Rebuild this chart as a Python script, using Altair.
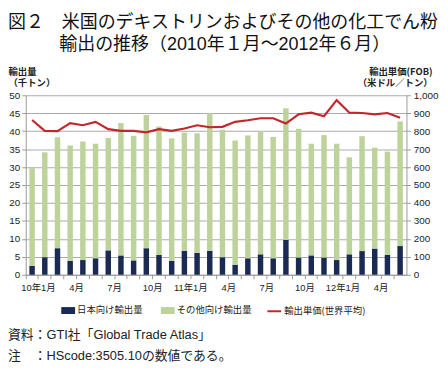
import json
import altair as alt
import pandas as pd

# ---- data ----
months = [f"{y}-{m:02d}" for y in (2010, 2011, 2012) for m in range(1, 13)][:30]
tick_labels = ["10年1月", "", "", "4月", "", "", "7月", "", "", "10月", "", "",
               "11年1月", "", "", "4月", "", "", "7月", "", "", "10月", "", "",
               "12年1月", "", "", "4月", "", ""]
japan = [2.5, 4.9, 7.4, 3.9, 4.1, 4.6, 6.8, 5.4, 4.0, 7.4, 5.5, 3.9, 6.7, 6.1, 6.7,
         4.9, 2.8, 4.6, 5.7, 4.6, 9.7, 4.8, 5.4, 4.8, 4.1, 5.7, 6.6, 7.3, 5.5, 8.0]
other = [27.2, 29.2, 30.9, 32.1, 33.0, 31.9, 31.3, 36.9, 34.7, 37.1, 35.8, 34.1, 32.9, 33.3, 38.3,
         35.5, 34.6, 34.2, 34.3, 33.8, 36.7, 35.9, 31.1, 34.1, 32.4, 27.0, 32.0, 28.1, 28.8, 34.7]
price = [862, 802, 800, 845, 833, 852, 811, 802, 802, 793, 811, 802, 815, 833, 822,
         824, 852, 861, 872, 872, 842, 894, 903, 883, 973, 903, 901, 894, 901, 875]

s_japan = "日本向け輸出量"
s_other = "その他向け輸出量"
s_price = "輸出単価(世界平均)"

title1 = "図２　米国のデキストリンおよびその他の化工でん粉"
title2 = "輸出の推移（2010年１月～2012年６月）"
note1 = "資料：GTI社「Global Trade Atlas」"
note2 = "注　：HScode:3505.10の数値である。"

NAVY = "#1b2a52"
GREEN = "#bed39c"
RED = "#c1272d"
FONT = "Liberation Sans, Noto Sans CJK JP, sans-serif"
JFONT = "Noto Sans CJK JP, sans-serif"

bars_df = pd.DataFrame(
    [{"month": m, "series": s_japan, "value": v, "ord": 0} for m, v in zip(months, japan)]
    + [{"month": m, "series": s_other, "value": v, "ord": 1} for m, v in zip(months, other)]
)
line_df = pd.DataFrame({"month": months, "price": price, "name": s_price})

label_expr = f"{json.dumps(tick_labels, ensure_ascii=False)}[indexof({json.dumps(months)}, datum.value)]"

xenc = alt.X(
    "month:O",
    sort=months,
    scale=alt.Scale(paddingInner=0, paddingOuter=0),
    axis=alt.Axis(
        title=None, labelAngle=0, bandPosition=0, labelOffset=6.43,
        labelExpr=label_expr, tickSize=4, tickColor="#999", domainColor="#999",
        labelFontSize=9.5, labelPadding=4, labelColor="#222", grid=False,
    ),
)

bars = alt.Chart(bars_df).mark_bar(width=alt.RelativeBandSize(0.43)).encode(
    x=xenc,
    y=alt.Y(
        "value:Q", stack="zero",
        scale=alt.Scale(domain=[0, 50], nice=False),
        axis=alt.Axis(
            values=list(range(0, 55, 5)), title=["輸出量", "（千トン）"],
            titleAngle=0, titleAlign="left", titleBaseline="top",
            titleX=-18, titleY=-29, titleFontSize=9.5, titleFontWeight="bold",
            titleLineHeight=11, titleFont=JFONT, titleColor="#222",
            grid=True, gridColor="#aaaaaa", tickSize=4, tickColor="#999",
            domainColor="#999", labelFontSize=10, labelPadding=2, labelColor="#222",
        ),
    ),
    color=alt.Color(
        "series:N",
        scale=alt.Scale(domain=[s_japan, s_other], range=[NAVY, GREEN]),
        legend=alt.Legend(
            orient="none", legendX=36, legendY=211, direction="horizontal", title=None,
            symbolType="M-1,-0.5H1V0.5H-1Z", symbolSize=196, symbolStrokeWidth=0,
            labelFontSize=9.5, labelFont=JFONT, labelColor="#222", labelOffset=2,
            columnPadding=18, padding=0,
        ),
    ),
    order=alt.Order("ord:Q"),
)

line = alt.Chart(line_df).mark_line(strokeWidth=2.2).encode(
    x=alt.X("month:O", sort=months),
    y=alt.Y(
        "price:Q",
        scale=alt.Scale(domain=[0, 1000], nice=False),
        axis=alt.Axis(
            orient="right", values=list(range(0, 1100, 100)), format=",.0f",
            title=["輸出単価(FOB)", "（米ドル／トン）"],
            titleAngle=0, titleAlign="right", titleBaseline="top",
            titleX=26, titleY=-29, titleFontSize=9.5, titleFontWeight="bold",
            titleLineHeight=11, titleFont=JFONT, titleColor="#222",
            grid=False, tickSize=4, tickColor="#999", domainColor="#999",
            labelFontSize=10, labelPadding=3, labelColor="#222",
        ),
    ),
    stroke=alt.Stroke(
        "name:N",
        scale=alt.Scale(domain=[s_price], range=[RED]),
        legend=alt.Legend(
            orient="none", legendX=244, legendY=211, direction="horizontal", title=None,
            symbolType="stroke", symbolSize=196, symbolStrokeWidth=2,
            labelFontSize=9.5, labelFont=JFONT, labelColor="#222", labelOffset=2, padding=0,
        ),
    ),
)


def text_layer(txt, x, y, size, color="#111"):
    return alt.Chart(pd.DataFrame({"t": [txt]})).mark_text(
        align="left", baseline="middle", fontSize=size, font=FONT, color=color
    ).encode(text="t:N", x=alt.value(x), y=alt.value(y))


texts = [
    text_layer(title1, -18, -73, 18.2),
    text_layer(title2, 34, -51, 18.2),
    text_layer(note1, -18, 243, 13, "#222"),
    text_layer(note2, -18, 264, 13, "#222"),
]

chart = alt.layer(bars, line, *texts).resolve_scale(
    y="independent"
).properties(
    width=386, height=182,
    autosize=alt.AutoSizeParams(type="none"),
    padding={"left": 18, "top": 86, "right": 34, "bottom": 88},
    background="white",
).configure_view(stroke=None).configure_axis(labelFont=FONT, titleFont=JFONT)

chart.save("out.html", embed_options={"renderer": "svg", "actions": False})
